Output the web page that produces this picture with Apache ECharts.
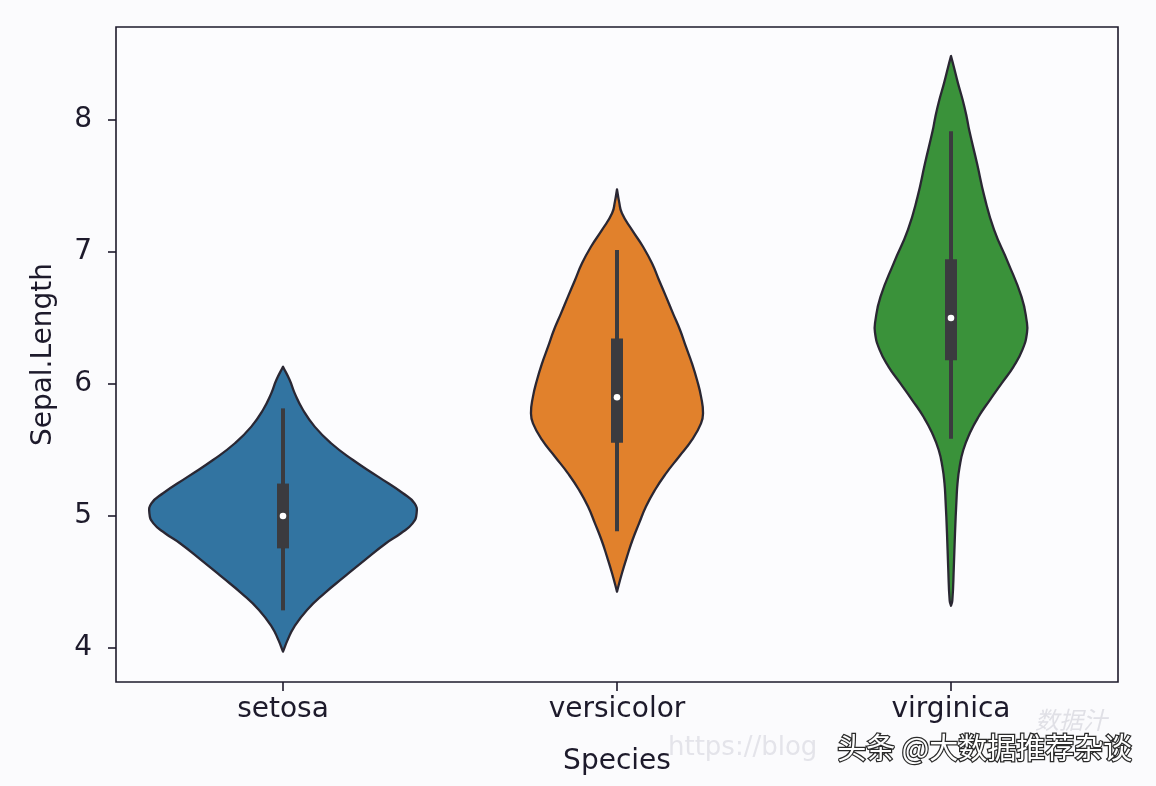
<!DOCTYPE html>
<html>
<head>
<meta charset="utf-8">
<script src="https://cdn.jsdelivr.net/npm/echarts@6/dist/echarts.min.js"></script>
<style>
  html, body { margin: 0; padding: 0; background: #fbfbfd; }
  #chart { width: 1156px; height: 786px; }
</style>
</head>
<body>
<div id="chart"></div>
<script>
// ---- data ----
const species = ['setosa', 'versicolor', 'virginica'];
const yTicks = [4, 5, 6, 7, 8];

// violin outline: sepal length values and relative density (half-width share)
const setosaVals = [6.131, 6.030, 5.929, 5.803, 5.677, 5.551, 5.424, 5.298, 5.172, 5.096, 5.020, 4.944, 4.869, 4.793, 4.667, 4.540, 4.414, 4.288, 4.162, 4.061, 3.972];
const setosaDens = [0, 0.05, 0.088, 0.15, 0.237, 0.36, 0.524, 0.711, 0.898, 0.985, 1.0, 0.97, 0.883, 0.771, 0.614, 0.46, 0.31, 0.18, 0.085, 0.035, 0];

const versicolorVals = [7.475, 7.380, 7.293, 7.167, 7.040, 6.914, 6.788, 6.662, 6.535, 6.409, 6.283, 6.157, 6.030, 5.904, 5.778, 5.702, 5.576, 5.449, 5.323, 5.197, 5.071, 4.944, 4.818, 4.692, 4.566, 4.427];
const versicolorDens = [0, 0.016, 0.037, 0.112, 0.195, 0.262, 0.314, 0.367, 0.419, 0.472, 0.516, 0.561, 0.599, 0.629, 0.644, 0.629, 0.561, 0.464, 0.367, 0.284, 0.217, 0.165, 0.116, 0.075, 0.037, 0];

const virginicaVals = [8.485, 8.40, 8.28, 8.15, 8.02, 7.92, 7.67, 7.42, 7.17, 6.92, 6.66, 6.48, 6.39, 6.26, 6.13, 6.01, 5.88, 5.75, 5.63, 5.50, 5.37, 5.25, 5.12, 4.87, 4.61, 4.36, 4.32];
const virginicaDens = [0, 0.022, 0.052, 0.088, 0.118, 0.137, 0.195, 0.25, 0.322, 0.427, 0.528, 0.566, 0.569, 0.535, 0.467, 0.383, 0.292, 0.205, 0.142, 0.092, 0.064, 0.049, 0.041, 0.03, 0.021, 0.01, 0];

// inner box stats: [whiskerLow, q1, median, q3, whiskerHigh]
const setosaBox = [4.3, 4.8, 5.0, 5.2, 5.8];
const versicolorBox = [4.9, 5.6, 5.9, 6.3, 7.0];
const virginicaBox = [5.6, 6.225, 6.5, 6.9, 7.9];

// ---- chart ----
const profiles = [
  { vals: setosaVals, dens: setosaDens, box: setosaBox },
  { vals: versicolorVals, dens: versicolorDens, box: versicolorBox },
  { vals: virginicaVals, dens: virginicaDens, box: virginicaBox }
];
const fills = ['#3274a1', '#e1812c', '#3a923a'];
const textColor = '#1d1a2b';
const font = 'DejaVu Sans';

function renderViolin(params, api) {
  const idx = api.value(0);
  const p = profiles[idx];
  const band = api.size([1, 0])[0];
  const scale = 0.4 * band;
  const cx = api.coord([idx, p.box[2]])[0];
  const n = p.vals.length;
  const left = [], right = [];
  for (let i = 0; i < n; i++) {
    const y = api.coord([idx, p.vals[i]])[1];
    left.push([cx - p.dens[i] * scale, y]);
    right.push([cx + p.dens[i] * scale, y]);
  }
  // tips appear twice so the smoothed outline keeps pointed ends
  const pts = left.concat(right.reverse());
  const yc = v => api.coord([idx, v])[1];
  return {
    type: 'group',
    children: [
      {
        type: 'polygon',
        shape: { points: pts, smooth: 0.5 },
        style: { fill: fills[idx], stroke: '#2a2733', lineWidth: 2.3, lineJoin: 'round' }
      },
      {
        type: 'line',
        shape: { x1: cx, y1: yc(p.box[0]), x2: cx, y2: yc(p.box[4]) },
        style: { stroke: '#3b3b3f', lineWidth: 4, lineCap: 'square' }
      },
      {
        type: 'line',
        shape: { x1: cx, y1: yc(p.box[1]), x2: cx, y2: yc(p.box[3]) },
        style: { stroke: '#3b3b3f', lineWidth: 12, lineCap: 'square' }
      },
      {
        type: 'circle',
        shape: { cx: cx, cy: yc(p.box[2]), r: 3.3 },
        style: { fill: '#ffffff' }
      }
    ]
  };
}

const chart = echarts.init(document.getElementById('chart'), null, { renderer: 'canvas' });
chart.setOption({
  backgroundColor: '#fbfbfd',
  animation: false,
  grid: {
    left: 116, right: 38, top: 27, bottom: 104,
    show: true, borderColor: '#1d1a2b', borderWidth: 1.6, backgroundColor: '#fcfcfe'
  },
  xAxis: {
    type: 'category',
    data: species,
    boundaryGap: true,
    name: 'Species',
    nameLocation: 'middle',
    nameGap: 66,
    nameTextStyle: { fontFamily: font, fontSize: 28, color: textColor },
    axisLine: { show: false },
    axisTick: { show: true, alignWithLabel: true, length: 9, lineStyle: { color: '#1d1a2b', width: 1.6 } },
    axisLabel: { fontFamily: font, fontSize: 28, color: textColor, margin: 14 },
    splitLine: { show: false }
  },
  yAxis: {
    type: 'value',
    min: 3.742,
    max: 8.705,
    name: 'Sepal.Length',
    nameLocation: 'middle',
    nameGap: 58,
    nameTextStyle: { fontFamily: font, fontSize: 28, color: textColor },
    axisLine: { show: false },
    axisTick: { show: true, length: 8, customValues: yTicks, lineStyle: { color: '#1d1a2b', width: 1.6 } },
    axisLabel: { fontFamily: font, fontSize: 28, color: textColor, margin: 24, customValues: yTicks },
    splitLine: { show: false }
  },
  series: [{
    type: 'custom',
    renderItem: renderViolin,
    encode: { x: 0, y: 1 },
    data: species.map((s, i) => [i, profiles[i].box[2]]),
    clip: false
  }],
  graphic: [
    {
      type: 'text', left: 668, top: 735, silent: true,
      style: { text: 'https://blog', font: '26px "DejaVu Sans"', fill: '#e4e4ea' }
    },
    {
      type: 'text', left: 1035, top: 708, silent: true,
      style: { text: '数据汁', font: 'italic 24px "Noto Sans CJK SC"', fill: '#e0e0e6' }
    },
    {
      type: 'text', left: 836, top: 732, silent: true,
      style: {
        text: '头条 @大数据推荐杂谈', font: '29px "Noto Sans CJK SC"',
        fill: '#ffffff', stroke: '#2a2a2a', lineWidth: 2.5
      }
    }
  ]
});
</script>
</body>
</html>
